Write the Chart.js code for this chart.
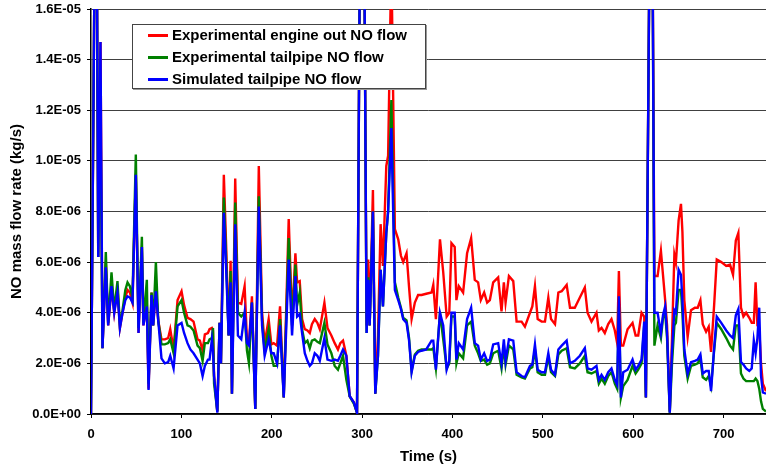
<!DOCTYPE html>
<html>
<head>
<meta charset="utf-8">
<title>NO mass flow rate</title>
<script src="https://cdn.jsdelivr.net/npm/chart.js@4.4.1/dist/chart.umd.min.js"></script>
<style>
  html, body { margin: 0; padding: 0; background: #fff; }
  #wrap { position: relative; width: 766px; height: 470px; }
  #legend {
    position: absolute; left: 132px; top: 24px; width: 292px; height: 63px;
    border: 1px solid #444; background: #fff; box-shadow: 1px 1px 0 #999;
    font: bold 15px "Liberation Sans", Arial, sans-serif; color: #000;
  }
  .row { position: absolute; left: 15px; height: 22px; line-height: 22px; white-space: nowrap; }
  .row i { display: inline-block; width: 20px; height: 3px; vertical-align: middle; margin-right: 4px; margin-top: -2px; }
</style>
</head>
<body>
<div id="wrap">
  <canvas id="noChart" width="766" height="470"></canvas>
  <div id="legend"></div>
</div>
<script>
// time axis (s), shared by all three series
const timeS = [
  0, 4, 6.5, 8, 10.5, 12.7, 16.4, 19, 22.7, 25.7,
  29.3, 32, 34.9, 38, 40.4, 43, 45.9, 49.6, 52.6, 56.3,
  58, 61.8, 63.7, 67, 68.8, 71.8, 74.4, 78, 81.7, 85.4,
  87.7, 91.4, 95.8, 100.2, 103, 106.8, 110, 113.5, 117.9, 120.5,
  123.5, 126, 129.4, 131.2, 133.8, 135, 136.2, 139.8, 142.3, 143.8,
  147, 149.7, 152.3, 154.5, 156, 159.6, 162.6, 166.3, 170, 172.6,
  174.8, 178.1, 181.8, 185.7, 189.3, 192.2, 196.6, 199.6, 202.2, 205.9,
  209.2, 213.3, 218.8, 222.5, 226.2, 228.1, 231, 233.6, 236.6, 239.5,
  242.1, 244.5, 247.6, 250.5, 253.2, 258.3, 261.7, 266, 269.7, 273.3,
  275.9, 278.9, 282.6, 286.3, 291, 294.4, 297.5, 302.5, 305, 306.8,
  308.4, 312, 314.6, 317.6, 320.5, 323.1, 326.8, 328.8, 332.4, 336.3,
  340, 343, 345.5, 349.2, 352, 354.8, 358.4, 362, 365.8, 371,
  376.9, 378.8, 381.7, 386.2, 389.8, 393.6, 396.5, 398.9, 402.5, 404.4,
  407, 411.8, 416.2, 420.7, 424.7, 428.4, 431.4, 435.1, 438.4, 441.4,
  445.1, 450.6, 454.3, 456.9, 458.8, 462.5, 467.3, 471, 476.5, 480.2,
  485.8, 488.4, 491.3, 494.3, 498.7, 502.4, 506.1, 509.1, 513.5, 517.2,
  520.9, 526.4, 530.1, 535.4, 541, 546.5, 549.5, 553.9, 559.4, 562,
  565, 568.6, 572.4, 576, 579.7, 582.3, 584.2, 586.4, 589, 593.8,
  599.3, 602.7, 605.6, 609.3, 612.2, 614.1, 618, 621.5, 623.5, 627,
  630.7, 633, 635.4, 637.5, 640.5, 643, 645.6, 647.3, 650.3, 652.9,
  654.5, 656.6, 660.3, 664, 668.3, 671.4, 674.4, 677, 680.7, 683.6,
  686.2, 689.6, 692.5, 697.5, 703, 707.2, 710.5, 713.6, 716.4, 719.3,
  722, 725, 728.5, 731.2, 733.5, 735.5, 737.5, 739.5, 741.5, 743.5,
  747
];

// values in 1e-6 kg/s
const engineOut = [
  0, 18, 18, 6.2, 14.7, 2.6, 6.0, 3.5, 5.0, 4.0,
  5.0, 3.4, 4.0, 4.6, 4.9, 4.8, 4.4, 9.5, 3.2, 6.6,
  3.5, 4.3, 1.0, 4.8, 3.5, 4.9, 3.7, 2.95, 2.95, 3.0,
  3.35, 2.55, 4.5, 4.85, 4.3, 3.8, 3.75, 3.65, 2.95, 2.9,
  2.5, 3.15, 3.2, 3.35, 3.4, 3.3, 1.5, 0.1, 3.6, 2.0,
  9.45, 6.5, 3.1, 6.05, 0.8, 9.3, 4.4, 4.35, 5.05, 2.95,
  2.8, 4.65, 0.2, 9.8, 4.0, 2.8, 3.75, 2.75, 2.8, 2.7,
  4.25, 0.65, 7.7, 3.75, 6.35, 5.2, 5.25, 3.75, 3.35, 3.3,
  3.2, 3.55, 3.75, 3.6, 3.35, 4.4, 3.4, 3.1, 2.8, 2.55,
  2.8, 2.9, 2.3, 0.7, 0.45, 0.05, 18, 18, 3.5, 6.1,
  3.5, 8.85, 0.8, 3.1, 7.5, 5.85, 9.8, 10.2, 18, 7.3,
  6.9, 6.25, 6.0, 6.35, 5.0, 3.75, 4.4, 4.7, 4.7, 4.75,
  4.8, 5.1, 3.75, 6.9, 5.6, 3.85, 4.0, 6.75, 6.6, 4.5,
  5.05, 4.8, 6.35, 6.95, 5.3, 5.2, 4.5, 4.8, 4.4, 4.5,
  5.2, 5.4, 4.05, 5.2, 4.4, 5.45, 5.25, 3.65, 3.65, 3.45,
  4.0, 4.25, 5.05, 3.75, 3.65, 3.65, 4.6, 3.75, 3.55, 4.8,
  4.85, 5.1, 4.2, 4.2, 4.6, 5.0, 4.0, 3.65, 4.0, 3.3,
  3.4, 3.2, 3.55, 3.75, 3.3, 2.8, 5.65, 2.7, 2.7, 3.35,
  3.6, 3.1, 3.1, 4.0, 3.85, 0.65, 18, 18, 5.45, 5.45,
  6.45, 5.5, 4.5, 3.5, 0.1, 3.0, 6.3, 6.0, 7.65, 8.3,
  7.2, 4.5, 3.05, 4.1, 4.2, 4.2, 4.5, 3.55, 3.25, 3.45,
  2.45, 4.3, 6.1, 6.0, 5.85, 5.9, 5.5, 6.85, 7.15, 4.2,
  3.85, 4.0, 3.8, 3.6, 3.6, 5.2, 3.5, 3.4, 2.0, 1.2,
  0.9
];

const tailpipeExp = [
  0, 18, 18, 6.2, 12.1, 2.6, 6.4, 3.6, 5.6, 4.1,
  5.25, 3.5, 4.1, 4.9, 5.2, 5.05, 4.6, 10.25, 3.4, 7.0,
  3.6, 5.3, 1.2, 4.8, 3.5, 6.0, 3.7, 2.75, 2.75, 2.8,
  2.95, 2.4, 4.25, 4.5, 4.0, 3.5, 3.45, 3.3, 2.7, 2.6,
  2.1, 2.8, 2.8, 2.95, 3.0, 3.4, 1.2, 0.1, 3.6, 2.0,
  8.55, 6.0, 3.1, 5.65, 0.8, 8.35, 4.0, 3.85, 4.0, 2.5,
  2.0, 4.4, 0.2, 8.6, 3.7, 2.5, 3.35, 2.3, 1.9, 1.9,
  3.75, 0.65, 6.95, 3.5, 5.9, 4.3, 4.8, 3.35, 2.8, 2.9,
  2.6, 2.9, 2.95, 2.85, 2.8, 3.6, 2.75, 2.4, 1.9, 1.75,
  2.0, 2.3, 1.35, 0.7, 0.4, 0.05, 18, 18, 3.2, 5.4,
  3.5, 8.0, 0.8, 2.3, 5.7, 4.25, 7.15, 8.0, 12.4, 5.2,
  4.6, 4.2, 3.8, 3.7, 3.0, 1.7, 2.35, 2.5, 2.55, 2.55,
  2.55, 2.6, 1.8, 4.0, 2.95, 1.8, 2.0, 3.85, 3.85, 2.0,
  2.4, 2.2, 3.5, 3.65, 2.7, 2.4, 2.1, 2.15, 1.95, 2.0,
  2.4, 2.5, 1.8, 2.7, 1.95, 2.7, 2.55, 1.55, 1.45, 1.4,
  1.8, 1.85, 2.55, 1.65, 1.55, 1.55, 2.25, 1.65, 1.5, 2.35,
  2.5, 2.6, 1.85, 1.8, 2.0, 2.3, 1.65, 1.6, 1.7, 1.2,
  1.4, 1.2, 1.5, 1.65, 1.2, 1.0, 4.25, 0.65, 1.1, 1.35,
  1.9, 1.6, 1.75, 2.0, 3.5, 0.65, 18, 18, 2.7, 3.5,
  3.0, 3.8, 4.0, 3.0, 0.05, 2.0, 3.5, 3.6, 4.9, 4.9,
  4.0, 2.3, 1.4, 1.9, 1.95, 2.0, 2.2, 1.45, 1.35, 1.5,
  1.1, 2.5, 3.6, 3.35, 3.0, 2.7, 2.55, 3.5, 3.5, 1.6,
  1.4, 1.3, 1.3, 1.3, 1.3, 1.4, 1.3, 1.0, 0.5, 0.2,
  0.1
];

const tailpipeSim = [
  0, 18, 18, 6.2, 14.7, 2.6, 5.8, 3.5, 5.05, 4.0,
  4.8, 3.4, 4.0, 4.5, 4.65, 4.6, 4.4, 9.45, 3.2, 6.6,
  3.5, 4.25, 0.95, 4.7, 3.5, 4.85, 3.7, 2.2, 2.0, 2.05,
  2.3, 1.8, 3.5, 3.6, 3.2, 2.8, 2.55, 2.4, 2.15, 2.0,
  1.5, 1.9, 2.15, 2.15, 2.95, 2.5, 1.5, 0.05, 3.6, 2.0,
  7.95, 5.6, 3.1, 5.2, 0.8, 7.5, 3.1, 2.95, 4.0, 2.8,
  2.7, 4.4, 0.2, 8.2, 3.5, 2.3, 2.95, 2.4, 2.4, 2.0,
  3.5, 0.65, 6.1, 3.1, 5.45, 3.85, 3.95, 3.2, 2.4, 2.1,
  1.9, 2.0, 2.4, 2.3, 2.1, 3.0, 2.15, 2.1, 2.15, 2.1,
  2.3, 2.55, 2.3, 0.7, 0.45, 0.05, 18, 18, 3.2, 5.3,
  3.5, 8.0, 0.8, 2.3, 5.7, 4.25, 7.15, 8.0, 11.3, 4.9,
  4.5, 4.15, 3.75, 3.6, 2.9, 1.65, 2.3, 2.45, 2.5, 2.55,
  2.9, 2.9, 1.75, 4.0, 3.5, 1.75, 2.1, 4.0, 4.0, 2.15,
  2.8, 2.55, 3.75, 4.2, 2.8, 2.7, 2.15, 2.4, 2.1, 2.15,
  2.75, 2.8, 2.0, 2.95, 2.1, 2.95, 2.9, 1.65, 1.5, 1.45,
  1.9, 1.95, 2.75, 1.75, 1.65, 1.65, 2.4, 1.75, 1.55, 2.55,
  2.7, 2.9, 2.0, 2.1, 2.3, 2.6, 1.8, 1.75, 1.9, 1.35,
  1.55, 1.35, 1.65, 1.8, 1.35, 1.15, 4.65, 0.65, 1.65, 1.75,
  2.15, 1.75, 1.9, 2.15, 3.65, 0.65, 18, 18, 4.0, 4.0,
  3.2, 3.9, 4.25, 3.2, 0.05, 2.5, 4.1, 4.0, 5.7, 5.5,
  4.5, 2.55, 1.6, 2.05, 2.1, 2.15, 2.35, 1.6, 1.7, 1.7,
  0.9, 2.6, 3.85, 3.6, 3.3, 3.1, 3.0, 3.9, 4.15, 2.05,
  1.95, 1.8, 1.7, 1.8, 2.9, 2.4, 3.0, 4.2, 1.5, 0.85,
  0.8
];

const seriesNames = [
  'Experimental engine out NO flow',
  'Experimental tailpipe NO flow',
  'Simulated tailpipe NO flow'
];
const seriesColors = ['#ff0000', '#008000', '#0000ff'];
const xTickValues = [0, 100, 200, 300, 400, 500, 600, 700];

const UNIT = 1e-6;

function toPoints(values) {
  return timeS.map((t, i) => ({ x: t, y: values[i] * UNIT }));
}

// Excel style exponent label, e.g. 2.0E-06
function sciLabel(v) {
  const s = Number(v).toExponential(1).toUpperCase();
  const m = s.match(/^(.*)E([+-])(\d+)$/);
  if (!m) return s;
  return m[1] + 'E' + m[2] + m[3].padStart(2, '0');
}

const allSeries = [engineOut, tailpipeExp, tailpipeSim];

// legend (boxed, top left of plot)
const legendEl = document.getElementById('legend');
seriesNames.forEach((name, i) => {
  const row = document.createElement('div');
  row.className = 'row';
  row.style.top = (-1 + i * 22) + 'px';
  row.innerHTML = '<i style="background:' + seriesColors[i] + '"></i>' + name;
  legendEl.appendChild(row);
});

Chart.defaults.font.family = '"Liberation Sans", Arial, sans-serif';
Chart.defaults.font.weight = 'bold';
Chart.defaults.color = '#000';

const ctx = document.getElementById('noChart');
new Chart(ctx, {
  type: 'line',
  data: {
    datasets: allSeries.map((vals, i) => ({
      label: seriesNames[i],
      data: toPoints(vals),
      borderColor: seriesColors[i],
      backgroundColor: seriesColors[i],
      borderWidth: 2.4,
      pointRadius: 0,
      tension: 0,
      fill: false,
      order: 3 - i   // blue drawn last (on top)
    }))
  },
  options: {
    responsive: false,
    animation: false,
    devicePixelRatio: 1,
    layout: { padding: { top: 9, right: 0, left: 0, bottom: 0 } },
    plugins: {
      legend: { display: false },
      tooltip: { enabled: false }
    },
    scales: {
      x: {
        type: 'linear',
        min: 0,
        max: 747,
        afterBuildTicks: (scale) => {
          scale.ticks = xTickValues.map(v => ({ value: v }));
        },
        afterFit: (scale) => { scale.height = 56; },
        ticks: {
          font: { size: 13, weight: 'bold' },
          padding: 9,
          maxRotation: 0
        },
        grid: {
          drawOnChartArea: false,
          drawTicks: true,
          tickLength: 4,
          tickColor: '#000'
        },
        border: { color: '#000', width: 1.5 },
        title: {
          display: true,
          text: 'Time (s)',
          font: { size: 15, weight: 'bold' },
          padding: { top: 0, bottom: 4 }
        }
      },
      y: {
        min: 0,
        max: 1.6e-5,
        afterFit: (scale) => {
          scale.width = 91;
          scale.paddingTop = 0;
        },
        ticks: {
          stepSize: 2e-6,
          font: { size: 13, weight: 'bold' },
          padding: 6,
          callback: (v) => sciLabel(v)
        },
        grid: {
          color: '#404040',
          lineWidth: 1,
          tickLength: 4,
          tickColor: '#000'
        },
        border: { color: '#000', width: 1.5 },
        title: {
          display: true,
          text: 'NO mass flow rate (kg/s)',
          font: { size: 15, weight: 'bold' },
          padding: { top: 8, bottom: 0 }
        }
      }
    }
  }
});
</script>
</body>
</html>
